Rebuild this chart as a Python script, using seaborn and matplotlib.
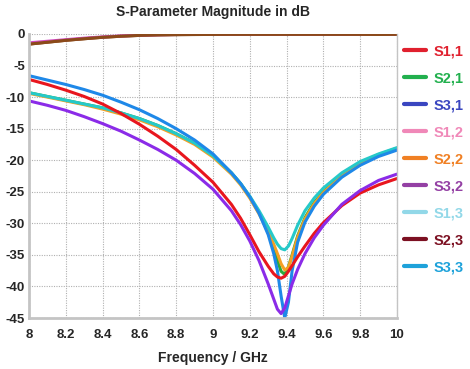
import numpy as np
import pandas as pd
import matplotlib
matplotlib.use('Agg')
import matplotlib.pyplot as plt
import seaborn as sns
from matplotlib.lines import Line2D

# frequency samples (GHz)
freq = [8.0, 8.1, 8.2, 8.3, 8.4, 8.5, 8.6, 8.7, 8.8, 8.9, 9.0, 9.1, 9.15, 9.2, 9.25,
        9.3, 9.33, 9.35, 9.37, 9.39, 9.41, 9.43, 9.46, 9.5, 9.55, 9.6, 9.7, 9.8, 9.9, 10.0]

# magnitudes in dB
s11 = [-7.2, -8.0, -8.9, -9.9, -11.1, -12.6, -14.3, -16.2, -18.3, -20.8, -23.5, -27.0, -29.2, -31.8, -34.5,
       -36.8, -38.0, -38.5, -38.7, -38.4, -37.6, -36.7, -35.3, -33.6, -31.6, -29.9, -27.2, -25.2, -23.9, -22.9]
s21 = [-9.3, -9.9, -10.5, -11.1, -11.7, -12.5, -13.4, -14.5, -15.8, -17.3, -19.3, -22.0, -23.7, -25.8, -28.3,
       -31.5, -34.0, -35.9, -37.6, -38.1, -36.9, -35.0, -32.0, -29.1, -26.7, -25.0, -22.4, -20.5, -19.1, -18.1]
s31 = [-1.6, -1.3, -1.0, -0.75, -0.52, -0.35, -0.22, -0.14, -0.1, -0.08, -0.07, -0.06, -0.06, -0.06, -0.06,
       -0.06, -0.06, -0.06, -0.06, -0.06, -0.06, -0.06, -0.06, -0.06, -0.06, -0.06, -0.06, -0.06, -0.06, -0.06]
s12 = [-1.4, -1.15, -0.9, -0.66, -0.46, -0.3, -0.2, -0.12, -0.08, -0.06, -0.05, -0.05, -0.05, -0.05, -0.05,
       -0.05, -0.05, -0.05, -0.05, -0.05, -0.05, -0.05, -0.05, -0.05, -0.05, -0.05, -0.05, -0.02, 0.1, -0.05]
s22 = [-9.4, -10.0, -10.6, -11.2, -11.9, -12.7, -13.6, -14.7, -16.0, -17.5, -19.5, -22.2, -23.9, -26.0, -28.5,
       -31.2, -33.3, -34.8, -36.4, -37.4, -37.0, -35.2, -32.2, -29.3, -26.9, -25.1, -22.5, -20.6, -19.2, -18.2]
s32 = [-10.6, -11.3, -12.1, -13.1, -14.2, -15.4, -16.8, -18.3, -20.0, -22.1, -24.6, -28.0, -30.2, -32.8, -35.9,
       -39.6, -42.0, -43.6, -44.3, -43.4, -41.5, -39.6, -37.3, -34.8, -32.3, -30.3, -27.0, -24.8, -23.2, -22.2]
s13 = [-9.3, -9.9, -10.5, -11.1, -11.7, -12.5, -13.4, -14.5, -15.8, -17.3, -19.3, -22.0, -23.7, -25.7, -28.0,
       -30.6, -32.3, -33.3, -34.0, -34.2, -33.6, -32.4, -30.3, -28.0, -26.0, -24.4, -22.0, -20.2, -19.0, -18.0]
s23 = [-1.6, -1.3, -1.0, -0.75, -0.52, -0.35, -0.22, -0.14, -0.1, -0.08, -0.07, -0.06, -0.06, -0.06, -0.06,
       -0.06, -0.06, -0.06, -0.06, -0.06, -0.06, -0.06, -0.06, -0.06, -0.06, -0.06, -0.06, -0.06, -0.06, -0.06]
s33 = [-6.6, -7.3, -8.0, -8.8, -9.7, -10.8, -12.0, -13.4, -15.0, -16.8, -19.0, -22.0, -23.7, -25.8, -28.4,
       -31.8, -34.8, -37.5, -41.5, -45.0, -42.5, -37.5, -33.0, -29.8, -27.3, -25.4, -22.7, -20.8, -19.4, -18.4]

labels = ['S1,1', 'S2,1', 'S3,1', 'S1,2', 'S2,2', 'S3,2', 'S1,3', 'S2,3', 'S3,3']
legend_colors = ['#e0202e', '#22b04e', '#3a46c0', '#f088b8', '#f08024', '#9440a4', '#92d8e8', '#7c1022', '#1ea2da']
line_colors = {'S1,1': '#e8161e', 'S2,1': '#2eaa3a', 'S3,1': '#8b4a1a', 'S1,2': '#d24cc4',
               'S2,2': '#f5a023', 'S3,2': '#8b2be8', 'S1,3': '#25c9c9', 'S2,3': '#8b4a1a',
               'S3,3': '#1e88e8'}
draw_order = ['S3,1', 'S1,2', 'S2,3', 'S2,1', 'S2,2', 'S1,3', 'S3,3', 'S1,1', 'S3,2']

xticks = [8, 8.2, 8.4, 8.6, 8.8, 9, 9.2, 9.4, 9.6, 9.8, 10]
xtick_labels = ['8', '8.2', '8.4', '8.6', '8.8', '9', '9.2', '9.4', '9.6', '9.8', '10']
yticks = [0, -5, -10, -15, -20, -25, -30, -35, -40, -45]
ytick_labels = ['0', '-5', '-10', '-15', '-20', '-25', '-30', '-35', '-40', '-45']

data = pd.DataFrame({'Frequency': freq, 'S1,1': s11, 'S2,1': s21, 'S3,1': s31, 'S1,2': s12,
                     'S2,2': s22, 'S3,2': s32, 'S1,3': s13, 'S2,3': s23, 'S3,3': s33})
df = data.melt(id_vars='Frequency', var_name='param', value_name='dB')

sns.set_style('white')
plt.rcParams['font.family'] = ['Liberation Sans', 'DejaVu Sans']
plt.rcParams['axes.unicode_minus'] = False

fig = plt.figure(figsize=(4.7, 3.69), dpi=100)
ax = fig.add_axes([29 / 470, 1 - 318 / 369, 368 / 470, 284 / 369])

sns.lineplot(data=df, x='Frequency', y='dB', hue='param', hue_order=draw_order,
             palette=line_colors, linewidth=2.2, legend=False, errorbar=None, ax=ax)

ax.set_xlim(8, 10)
ax.set_ylim(-45, 0)
ax.set_xticks(xticks)
ax.set_xticklabels(xtick_labels, fontsize=9.5, fontweight='bold')
ax.set_yticks(yticks)
ax.set_yticklabels(ytick_labels, fontsize=9.5, fontweight='bold')
ax.tick_params(axis='x', length=0, pad=8)
ax.tick_params(axis='y', length=0, pad=3)
ax.grid(True, linestyle=(0, (1, 1.2)), color='#b0b0b0', linewidth=0.8)

for side in ['left', 'bottom']:
    ax.spines[side].set_color('#c4c4c4')
    ax.spines[side].set_linewidth(2)
ax.spines['right'].set_color('#c4c4c4')
ax.spines['right'].set_linewidth(1)
ax.spines['top'].set_visible(False)

ax.set_xlabel('Frequency / GHz', fontsize=10, fontweight='bold', labelpad=7)
ax.set_ylabel('')
ax.set_title('S-Parameter Magnitude in dB', fontsize=10, fontweight='bold', pad=13)

handles = [Line2D([0], [0], color=c, linewidth=3) for c in legend_colors]
fig.legend(handles, labels, loc='upper left', bbox_to_anchor=(0.832, 0.915), frameon=False,
           labelcolor=legend_colors, handlelength=1.5, handletextpad=0.5, labelspacing=0.89,
           prop={'size': 10.5, 'weight': 'bold'})

fig.savefig('out.png', dpi=100)
